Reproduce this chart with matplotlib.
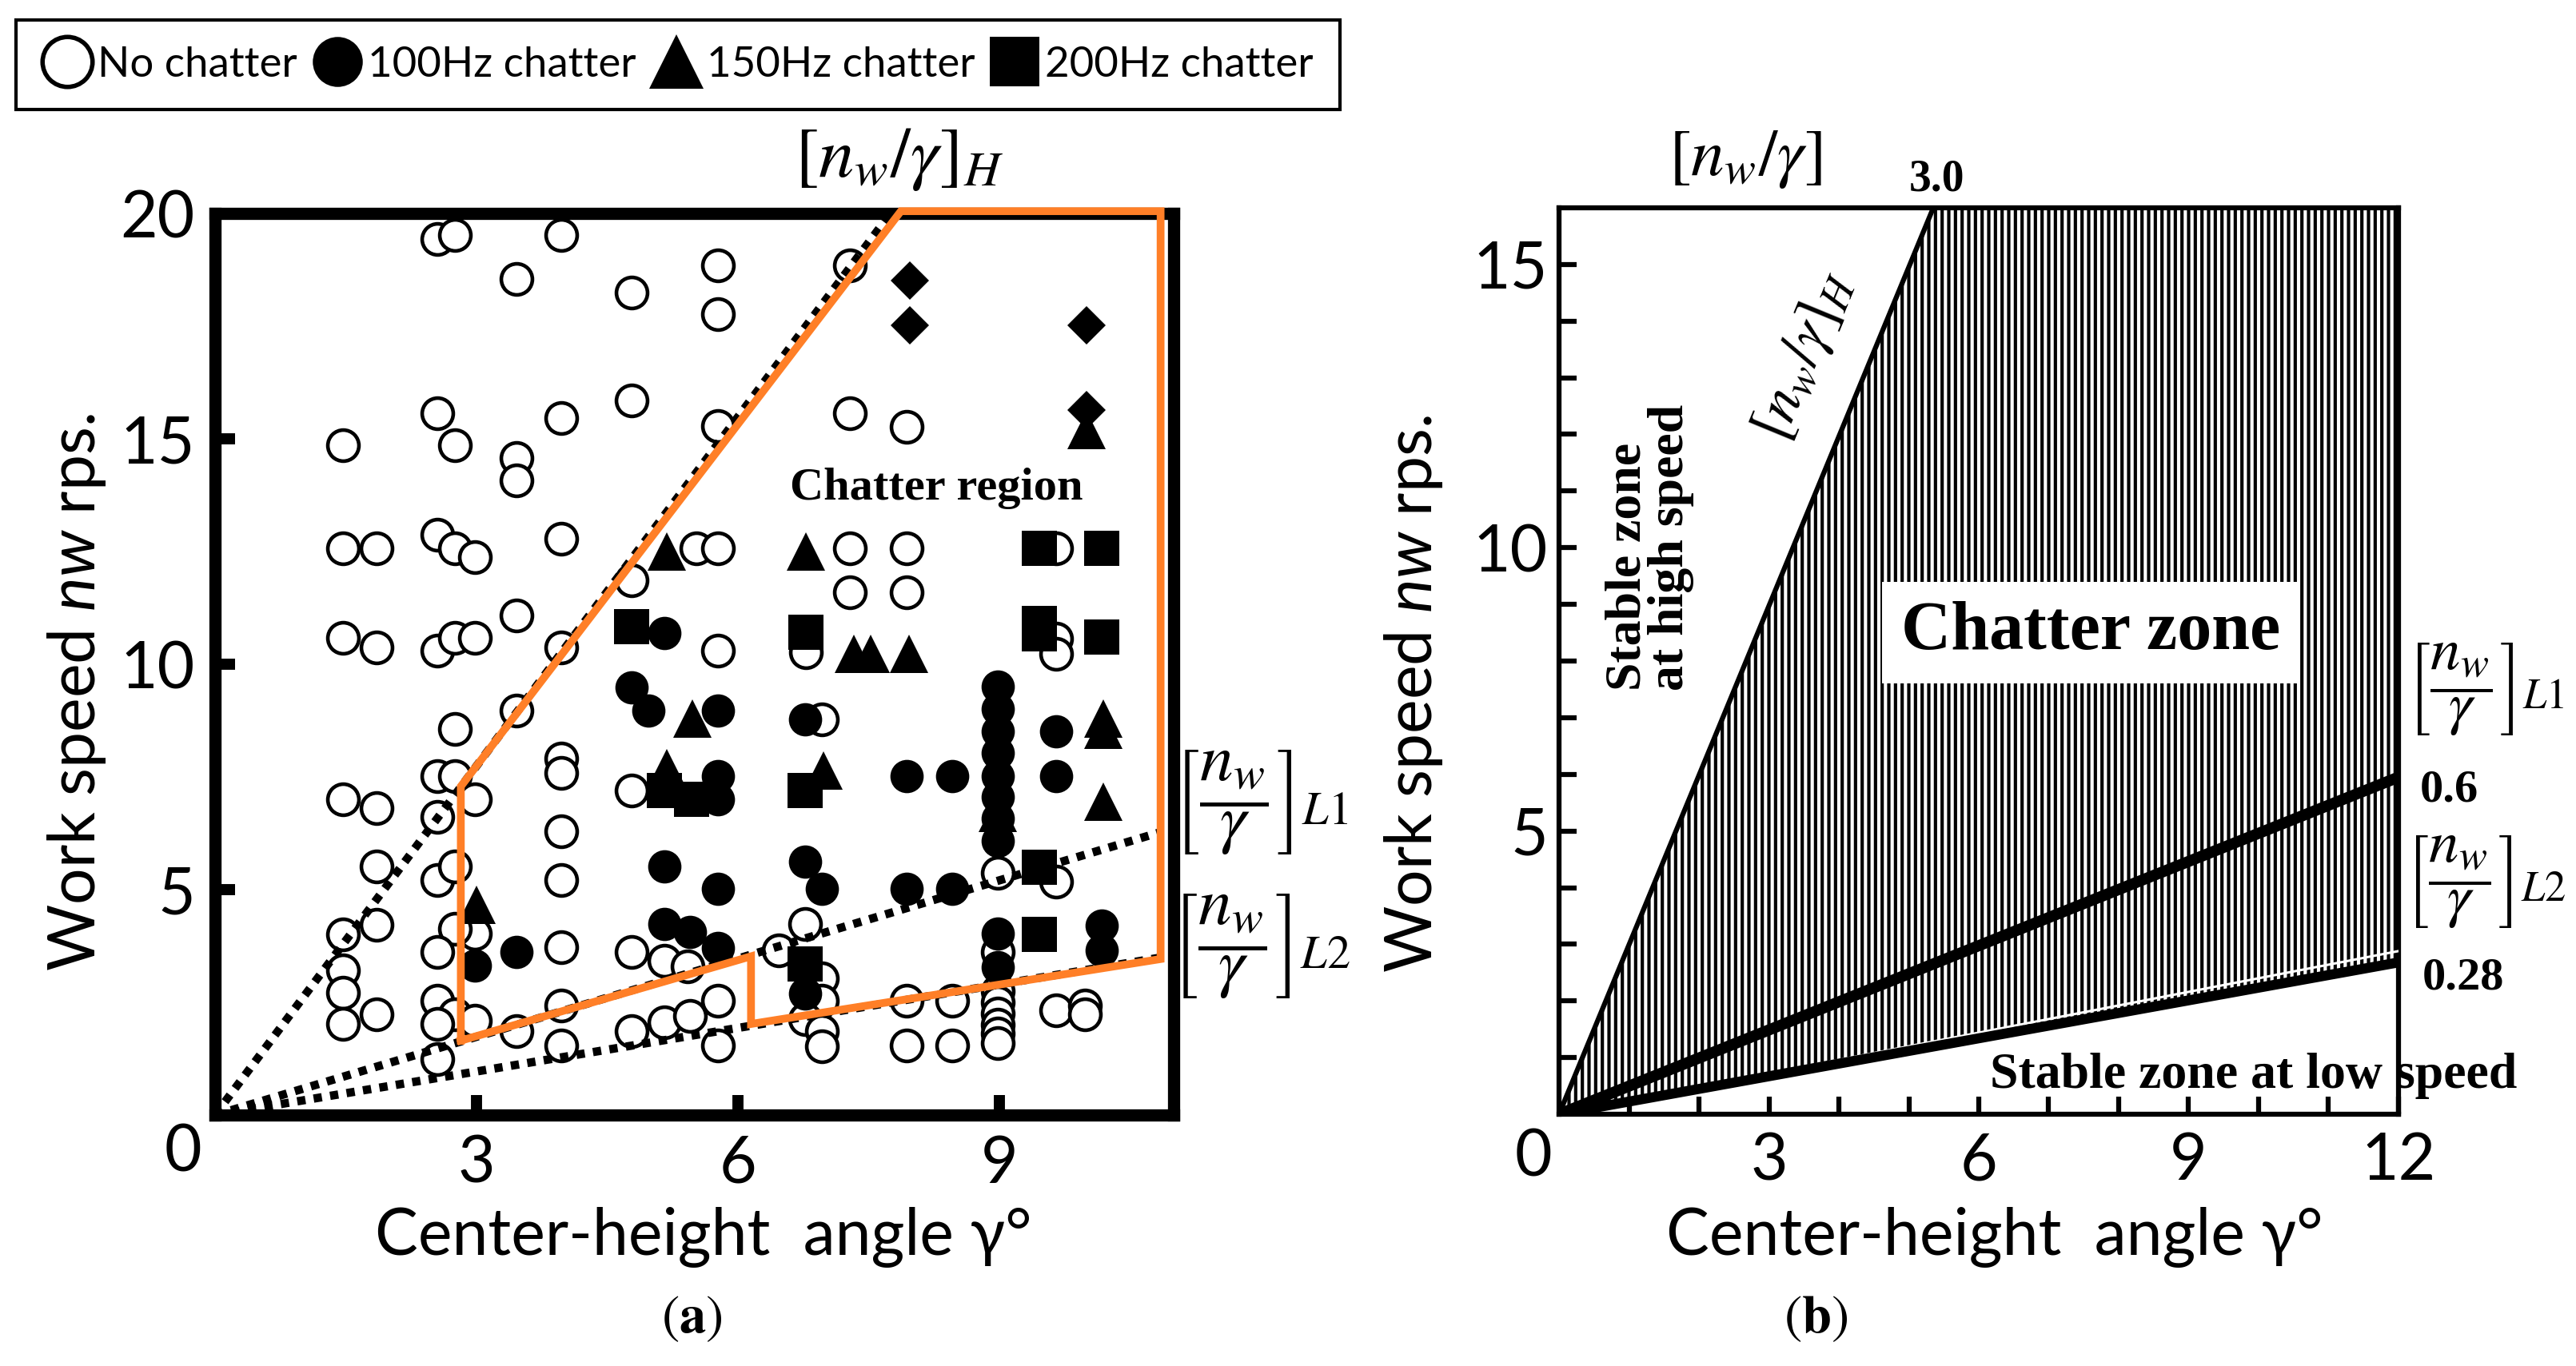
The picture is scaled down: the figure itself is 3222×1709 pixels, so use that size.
import matplotlib
matplotlib.use('Agg')
import matplotlib.pyplot as plt
from matplotlib.lines import Line2D
import numpy as np

plt.rcParams['font.family'] = ['Lato', 'DejaVu Sans']
plt.rcParams['mathtext.fontset'] = 'custom'
plt.rcParams['mathtext.rm'] = 'Lato'
plt.rcParams['mathtext.it'] = 'Lato:italic'
plt.rcParams['mathtext.bf'] = 'Lato:bold'
plt.rcParams['hatch.linewidth'] = 3.0
plt.rcParams['hatch.color'] = 'black'

# ---------------- panel (a) data ----------------
no_chatter_x = [2.55, 2.75, 3.97, 3.46, 4.78,
                2.55, 2.75, 1.47, 3.46, 3.46, 3.97, 4.78,
                1.47, 1.85, 2.55, 2.75, 2.98, 3.97, 4.78,
                3.46, 1.47, 1.85, 2.55, 2.75, 2.98, 3.97,
                5.77, 5.77, 7.28, 5.77, 7.28, 7.94,
                5.52, 5.77, 7.28, 7.94, 9.65,
                7.28, 7.94, 6.78, 9.65, 9.65, 5.77,
                3.46, 2.75, 2.55, 2.75, 2.98, 1.47, 1.85, 2.55,
                3.97, 3.97, 3.97, 3.97, 4.78,
                1.85, 2.55, 2.75,
                2.98, 2.75, 2.55, 3.97, 1.47, 1.85,
                1.47, 1.47, 1.47, 1.85, 2.55, 2.75, 2.55, 2.98, 2.55, 3.46, 3.97, 3.97,
                4.78, 5.16, 4.78, 5.16,
                6.96, 8.98, 9.65,
                8.98, 8.98, 8.98, 8.98, 8.98, 8.98, 8.98,
                9.65, 9.98, 9.98,
                5.42, 5.77, 5.45, 5.77,
                6.47, 6.77, 6.96, 6.96, 6.77, 6.96, 6.96,
                7.94, 8.46, 7.94, 8.46]
no_chatter_y = [19.43, 19.53, 19.53, 18.54, 18.25,
                15.56, 14.86, 14.86, 14.57, 14.07, 15.46, 15.85,
                12.57, 12.57, 12.88, 12.57, 12.37, 12.78, 11.86,
                11.08, 10.59, 10.38, 10.30, 10.59, 10.59, 10.38,
                18.85, 17.76, 18.85, 15.29, 15.56, 15.27,
                12.57, 12.57, 12.57, 12.57, 12.57,
                11.59, 11.59, 10.26, 10.57, 10.23, 10.30,
                8.98, 8.57, 7.52, 7.52, 7.00, 7.00, 6.80, 6.61,
                7.90, 7.59, 6.30, 5.21, 7.20,
                5.52, 5.21, 5.52,
                4.03, 4.13, 3.62, 3.72, 4.00, 4.22,
                3.21, 2.71, 2.03, 2.23, 2.54, 2.23, 2.03, 2.09, 1.25, 1.86, 2.43, 1.55,
                3.62, 3.42, 1.86, 2.06,
                8.78, 5.38, 5.18,
                3.62, 2.75, 2.50, 2.25, 2.00, 1.80, 1.60,
                2.33, 2.43, 2.23,
                3.30, 2.54, 2.20, 1.55,
                3.65, 4.23, 3.04, 2.54, 2.13, 1.86, 1.52,
                2.54, 2.54, 1.55, 1.55]

hz100_x = [5.16, 4.78, 4.97, 5.16, 2.98, 3.46, 5.16,
           5.77, 6.77, 5.77, 5.77, 7.94, 8.46,
           8.98, 8.98, 8.98, 8.98, 8.98, 8.98, 8.98, 8.98,
           9.65, 9.65, 6.77, 6.96, 5.77, 7.94, 8.46,
           8.98, 8.98, 10.17, 10.17, 5.45, 5.77, 6.77]
hz100_y = [10.70, 9.49, 8.98, 5.52, 3.32, 3.62, 4.23,
           8.98, 8.78, 7.52, 7.01, 7.52, 7.52,
           9.50, 9.01, 8.51, 8.03, 7.52, 7.05, 6.57, 6.08,
           8.51, 7.51, 5.62, 5.01, 5.01, 5.01, 5.01,
           4.03, 3.28, 4.20, 3.65, 4.06, 3.70, 2.70]

hz150_x = [5.18, 6.78, 7.33, 7.52, 7.96, 10.0, 5.18, 5.48, 3.00, 6.98, 10.19, 10.19, 10.19, 8.98]
hz150_y = [12.50, 12.50, 10.23, 10.23, 10.23, 15.20, 7.70, 8.80, 4.67, 7.65, 8.80, 8.55, 6.95, 6.70]

hz200_x = [4.78, 9.46, 10.17, 6.78, 9.46, 9.46, 10.17, 5.16, 5.47, 6.77, 9.46, 9.46, 6.77]
hz200_y = [10.84, 12.57, 12.57, 10.71, 10.90, 10.67, 10.60, 7.20, 7.00, 7.20, 5.50, 4.01, 3.35]

other_x = [7.97, 7.97, 10.0, 10.0]
other_y = [18.51, 17.51, 17.51, 15.63]

boundary_x = [2.82, 2.82, 7.87, 10.85, 10.85, 6.15, 6.15, 2.82]
boundary_y = [1.65, 7.29, 20.05, 20.05, 3.46, 2.02, 3.52, 1.65]

lineH_a_x, lineH_a_y = [0, 7.75], [0, 20.0]
lineL1_a_x, lineL1_a_y = [0, 10.84], [0, 6.27]
lineL2_a_x, lineL2_a_y = [0, 10.84], [0, 3.49]

xticks_a = [3, 6, 9]
xticklabels_a = ['3', '6', '9']
yticks_a = [5, 10, 15, 20]
yticklabels_a = ['5', '10', '15', '20']

legend_labels = ['No chatter', '100Hz chatter', '150Hz chatter', '200Hz chatter']

# ---------------- panel (b) data ----------------
lineH_b_x, lineH_b_y = [0, 5.35], [0, 16.0]
lineL1_b_x, lineL1_b_y = [0, 12.0], [0, 5.95]
lineL2_b_x, lineL2_b_y = [0, 12.0], [0, 2.68]
lineL2w_b_x, lineL2w_b_y = [0, 12.0], [0, 2.88]
zone_x = [0, 5.35, 12.0]
zone_top = [0, 16.0, 16.0]

xticks_b = list(range(1, 13))
xticklabels_b = ['', '', '3', '', '', '6', '', '', '9', '', '', '12']
yticks_b = list(range(1, 16))
yticklabels_b = ['', '', '', '', '5', '', '', '', '', '10', '', '', '', '', '15']

# ---------------- figure ----------------
W, H = 3222, 1709
fig = plt.figure(figsize=(W / 100, H / 100), dpi=100)

def fx(px):
    return px / W

def fy(py):
    return 1 - py / H

SERIF = 'Liberation Serif'
TICKFS = 58
LABFS = 58

# ======== panel (a) ========
axA = fig.add_axes([fx(269), fy(1395), 1199 / W, 1128 / H])
axA.set_xlim(0, 11)
axA.set_ylim(0, 20)
for s in axA.spines.values():
    s.set_linewidth(11)
axA.set_xticks(xticks_a)
axA.set_xticklabels(xticklabels_a)
axA.set_yticks(yticks_a)
axA.set_yticklabels(yticklabels_a)
axA.tick_params(direction='in', length=18, width=10, labelsize=TICKFS)
axA.tick_params(axis='x', pad=18)
axA.tick_params(axis='y', pad=18)

axA.plot(no_chatter_x, no_chatter_y, ls='none', marker='o', ms=28, mfc='white',
         mec='black', mew=3.3, zorder=3, clip_on=False)
axA.plot(hz150_x, hz150_y, ls='none', marker='^', ms=34, color='black', mew=0, zorder=4)
axA.plot(hz100_x, hz100_y, ls='none', marker='o', ms=30, color='black', mew=0, zorder=4.1)
axA.plot(hz200_x, hz200_y, ls='none', marker='s', ms=31, color='black', mew=0, zorder=4.2)
axA.plot(other_x, other_y, ls='none', marker='D', ms=24, color='black', mew=0, zorder=4.3)

dot = dict(color='black', lw=7.5, ls=(0, (1, 1)), dash_capstyle='butt', zorder=5)
axA.plot(lineH_a_x, lineH_a_y, **dot)
axA.plot(lineL1_a_x, lineL1_a_y, **dot)
axA.plot(lineL2_a_x, lineL2_a_y, **dot)
axA.plot(boundary_x, boundary_y, color='#FF7F27', lw=7, solid_joinstyle='miter',
         zorder=6, clip_on=False)

axA.text(8.28, 13.9, 'Chatter region', family=SERIF, fontweight='bold', fontsize=42,
         ha='center', va='center', zorder=7)
axA.text(7.85, 21.2, r'$\left[n_w/\gamma\right]_H$', math_fontfamily='stix', fontsize=64,
         ha='center', va='center', clip_on=False)
axA.text(12.0, 6.95, r'$\left[\dfrac{n_w}{\gamma}\right]_{L1}$', math_fontfamily='stix',
         fontsize=60, ha='center', va='center', clip_on=False)
axA.text(12.0, 3.75, r'$\left[\dfrac{n_w}{\gamma}\right]_{L2}$', math_fontfamily='stix',
         fontsize=60, ha='center', va='center', clip_on=False)

fig.text(fx(229), fy(1442), '0', fontsize=TICKFS, ha='center', va='center')
fig.text(fx(880), fy(1570), 'Center-height  angle γ°', fontsize=LABFS, ha='center', va='baseline')
fig.text(fx(96), fy(866), r'Work speed $nw$ rps.', fontsize=LABFS, rotation=90,
         ha='center', va='center')
fig.text(fx(865), fy(1650), r'$(\mathbf{a})$', math_fontfamily='stix', fontsize=48,
         ha='center', va='center')

# legend
handles = [
    Line2D([], [], ls='none', marker='o', ms=45, mfc='white', mec='black', mew=4),
    Line2D([], [], ls='none', marker='o', ms=45, color='black', mew=0),
    Line2D([], [], ls='none', marker='^', ms=49, color='black', mew=0),
    Line2D([], [], ls='none', marker='s', ms=45, color='black', mew=0),
]
leg = fig.legend(handles, legend_labels, loc='upper left', bbox_to_anchor=(fx(20), fy(25)),
                 ncol=4, fontsize=38, frameon=True, fancybox=False, edgecolor='black',
                 framealpha=1, borderpad=0.62, handlelength=1.2, handletextpad=0.12,
                 columnspacing=0.35, borderaxespad=0)
leg.get_frame().set_linewidth(3)

# ======== panel (b) ========
axB = fig.add_axes([fx(1950), fy(1394), 1050 / W, 1134 / H])
axB.set_xlim(0, 12)
axB.set_ylim(0, 16)
for s in axB.spines.values():
    s.set_linewidth(4.5)
axB.set_xticks(xticks_b)
axB.set_xticklabels(xticklabels_b)
axB.set_yticks(yticks_b)
axB.set_yticklabels(yticklabels_b)
axB.tick_params(direction='in', length=16, width=4.5, labelsize=TICKFS)
axB.tick_params(axis='x', pad=16)
axB.tick_params(axis='y', pad=10)

zone_bottom = np.interp(zone_x, lineL2_b_x, lineL2_b_y)
axB.fill_between(zone_x, zone_bottom, zone_top, facecolor='white', edgecolor='black',
                 hatch='||', lw=0, zorder=1)
axB.plot(lineH_b_x, lineH_b_y, color='black', lw=4.5, zorder=3)
axB.plot(lineL1_b_x, lineL1_b_y, color='black', lw=10, zorder=3)
axB.plot(lineL2w_b_x, lineL2w_b_y, color='white', lw=2.2, zorder=3)
axB.plot(lineL2_b_x, lineL2_b_y, color='black', lw=9, zorder=3)

axB.text(7.6, 8.5, 'Chatter zone', family=SERIF, fontweight='bold', fontsize=62,
         ha='center', va='center', zorder=5,
         bbox=dict(boxstyle='square,pad=0.28', fc='white', ec='none'))
axB.text(1.29, 10.0, 'Stable zone\nat high speed', family=SERIF, fontweight='bold',
         fontsize=46, rotation=90, ha='center', va='center', linespacing=0.9,
         multialignment='left', zorder=5)
axB.text(3.5, 13.4, r'$\left[n_w/\gamma\right]_H$', math_fontfamily='stix', fontsize=54,
         rotation=67.6, rotation_mode='anchor', ha='center', va='center', zorder=5)
axB.text(2.66, 16.85, r'$\left[n_w/\gamma\right]$', math_fontfamily='stix', fontsize=60,
         ha='center', va='center', clip_on=False)
axB.text(5.4, 16.5, '3.0', family=SERIF, fontweight='bold', fontsize=40,
         ha='center', va='center', clip_on=False)
axB.text(13.25, 7.5, r'$\left[\dfrac{n_w}{\gamma}\right]_{L1}$', math_fontfamily='stix',
         fontsize=54, ha='center', va='center', clip_on=False)
axB.text(12.72, 5.72, '0.6', family=SERIF, fontweight='bold', fontsize=42,
         ha='center', va='center', clip_on=False)
axB.text(13.25, 4.1, r'$\left[\dfrac{n_w}{\gamma}\right]_{L2}$', math_fontfamily='stix',
         fontsize=54, ha='center', va='center', clip_on=False)
axB.text(12.93, 2.41, '0.28', family=SERIF, fontweight='bold', fontsize=42,
         ha='center', va='center', clip_on=False)
axB.text(9.93, 0.46, 'Stable zone at low speed', family=SERIF, fontweight='bold',
         fontsize=46, ha='center', va='baseline', clip_on=False, zorder=5)

fig.text(fx(1918), fy(1449), '0', fontsize=TICKFS, ha='center', va='center')
fig.text(fx(2495), fy(1570), 'Center-height  angle γ°', fontsize=LABFS, ha='center', va='baseline')
fig.text(fx(1768), fy(868), r'Work speed $nw$ rps.', fontsize=LABFS, rotation=90,
         ha='center', va='center')
fig.text(fx(2271), fy(1650), r'$(\mathbf{b})$', math_fontfamily='stix', fontsize=48,
         ha='center', va='center')

fig.savefig('out.png', dpi=100, facecolor='white')
